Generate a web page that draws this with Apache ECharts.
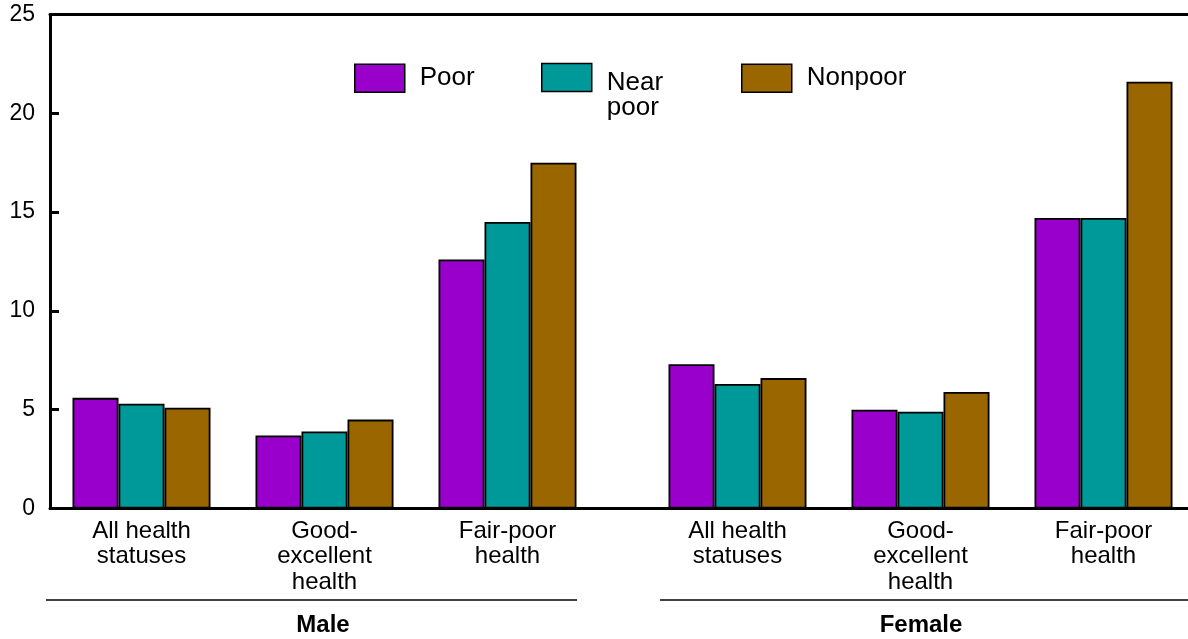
<!DOCTYPE html>
<html>
<head>
<meta charset="utf-8">
<script src="https://cdn.jsdelivr.net/npm/echarts@6/dist/echarts.min.js"></script>
<style>
html,body{margin:0;padding:0;background:#fff;overflow:hidden;}
#chart{width:1200px;height:639px;}
</style>
</head>
<body>
<div id="chart"></div>
<script>
// ---- data ----
const categories = ['All health\nstatuses', 'Good-\nexcellent\nhealth', 'Fair-poor\nhealth'];
const groups = ['Male', 'Female'];
const seriesNames = ['Poor', 'Near poor', 'Nonpoor'];
const malePoor = [5.6, 3.7, 12.6];
const maleNearPoor = [5.3, 3.9, 14.5];
const maleNonpoor = [5.1, 4.5, 17.5];
const femalePoor = [7.3, 5.0, 14.7];
const femaleNearPoor = [6.3, 4.9, 14.7];
const femaleNonpoor = [6.6, 5.9, 21.6];
const yTicks = [0, 5, 10, 15, 20, 25];

// ---- styling ----
const colors = ['#9900CC', '#009999', '#996600'];
const FONT = '"Liberation Sans", Arial, sans-serif';
const chart = echarts.init(document.getElementById('chart'), null, {renderer: 'canvas'});

const band = 183;
const gridTop = 14.5, gridH = 494;

function xAxisBottom(gi, data) {
  return {
    type: 'category', gridIndex: gi, position: 'bottom', data: data,
    axisLine: {show: true, lineStyle: {color: '#000', width: 3}},
    axisTick: {show: false},
    axisLabel: {color: '#000', fontFamily: FONT, fontSize: 24, lineHeight: 25.5, margin: 10, interval: 0}
  };
}
function xAxisTop(gi, data) {
  return {
    type: 'category', gridIndex: gi, position: 'top', data: data,
    axisLine: {show: true, lineStyle: {color: '#000', width: 3}},
    axisTick: {show: false}, axisLabel: {show: false}
  };
}
const yMin = yTicks[0], yMax = yTicks[yTicks.length - 1], yInt = yTicks[1] - yTicks[0];

const maleData = [malePoor, maleNearPoor, maleNonpoor];
const femaleData = [femalePoor, femaleNearPoor, femaleNonpoor];
const series = [];
[maleData, femaleData].forEach((set, gi) => {
  set.forEach((vals, si) => {
    series.push({
      name: seriesNames[si], type: 'bar', xAxisIndex: gi * 2, yAxisIndex: gi,
      data: vals, barWidth: 46, barGap: '0%',
      itemStyle: {color: colors[si], borderColor: '#000', borderWidth: 1.8},
      emphasis: {disabled: true}, animation: false
    });
  });
});

const legendPos = [349, 536, 736];
const legends = seriesNames.map((n, i) => {
  const two = n === 'Near poor';
  return {
    data: [n], left: legendPos[i], top: two ? 29.5 : 58.5, orient: 'horizontal',
    itemWidth: 50, itemHeight: 28, selectedMode: false,
    icon: 'rect', itemStyle: {borderColor: '#000', borderWidth: 1.5},
    formatter: two ? '{s| }\n{t|Near}\n{t|poor}' : '{name}',
    textStyle: {color: '#000', fontFamily: FONT, fontSize: 26, lineHeight: 25,
      padding: [0, 0, 0, 10],
      rich: {
        s: {fontSize: 10, lineHeight: 36},
        t: {color: '#000', fontFamily: FONT, fontSize: 26, lineHeight: 25}
      }}
  };
});

const option = {
  backgroundColor: '#fff',
  animation: false,
  legend: legends,
  grid: [
    {left: 50, top: gridTop, width: band * 4, height: gridH, containLabel: false},
    {left: 646, top: gridTop, width: band * 3, height: gridH, containLabel: false}
  ],
  xAxis: [
    xAxisBottom(0, categories.concat([''])),
    xAxisTop(0, categories.concat([''])),
    xAxisBottom(1, categories),
    xAxisTop(1, categories)
  ],
  yAxis: [
    {type: 'value', gridIndex: 0, min: yMin, max: yMax, interval: yInt,
     axisLine: {show: true, lineStyle: {color: '#000', width: 3}},
     axisTick: {show: true, inside: true, length: 9, lineStyle: {color: '#000', width: 3}},
     axisLabel: {color: '#000', fontFamily: FONT, fontSize: 23, margin: 15},
     splitLine: {show: false}},
    {type: 'value', gridIndex: 1, min: yMin, max: yMax, interval: yInt, show: false,
     splitLine: {show: false}}
  ],
  series: series,
  graphic: [
    {type: 'line', shape: {x1: 46, y1: 600, x2: 577, y2: 600}, style: {stroke: '#000', lineWidth: 1.5}},
    {type: 'line', shape: {x1: 660, y1: 600, x2: 1188, y2: 600}, style: {stroke: '#000', lineWidth: 1.5}},
    {type: 'text', x: 323, y: 625, style: {text: groups[0], fill: '#000', font: 'bold 24px ' + FONT, textAlign: 'center', textVerticalAlign: 'middle'}},
    {type: 'text', x: 921, y: 625, style: {text: groups[1], fill: '#000', font: 'bold 24px ' + FONT, textAlign: 'center', textVerticalAlign: 'middle'}}
  ]
};
chart.setOption(option);
</script>
</body>
</html>
